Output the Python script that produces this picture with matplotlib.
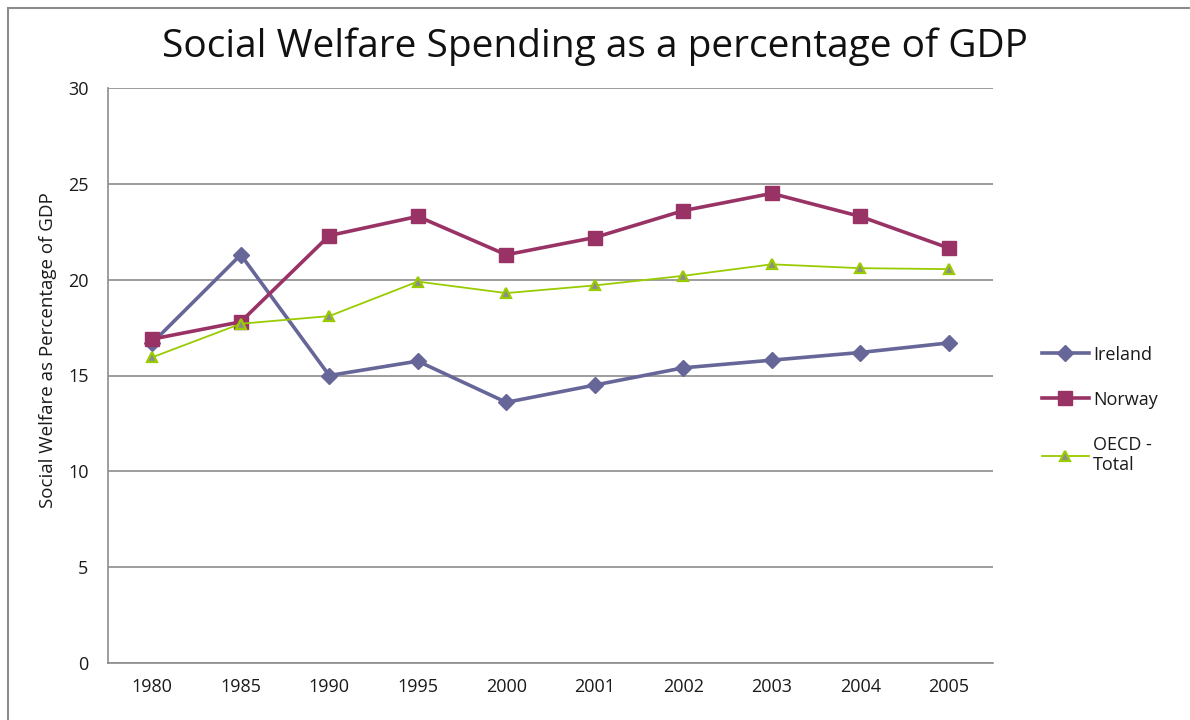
import matplotlib
matplotlib.use("Agg")
import matplotlib.pyplot as plt
from matplotlib.patches import Rectangle

years = ["1980", "1985", "1990", "1995", "2000", "2001", "2002", "2003", "2004", "2005"]
ireland = [16.7, 21.3, 15.0, 15.75, 13.6, 14.5, 15.4, 15.8, 16.2, 16.7]
norway = [16.9, 17.8, 22.3, 23.3, 21.3, 22.2, 23.6, 24.5, 23.3, 21.65]
oecd = [15.95, 17.7, 18.1, 19.9, 19.3, 19.7, 20.2, 20.8, 20.6, 20.55]
y_ticks = [0, 5, 10, 15, 20, 25, 30]

plt.rcParams["font.family"] = ["Open Sans", "DejaVu Sans"]

W, H = 1190, 720
fig = plt.figure(figsize=(W / 100, H / 100), dpi=100)

# outer chart frame
fig.patches.append(Rectangle((8 / W, -0.01), 1.02, 1 - 8 / H + 0.01,
                             transform=fig.transFigure, fill=False,
                             edgecolor="#8c8c8c", linewidth=1.5, zorder=0))

ax = fig.add_axes([108 / W, (H - 663) / H, (993 - 108) / W, (663 - 88) / H])
x = range(len(years))

ax.plot(x, ireland, color="#666699", linewidth=2.6, marker="D", markersize=8.2,
        markerfacecolor="#666699", markeredgecolor="#666699", label="Ireland",
        zorder=3)
ax.plot(x, norway, color="#993366", linewidth=2.6, marker="s", markersize=10.5,
        markerfacecolor="#993366", markeredgecolor="#993366", label="Norway",
        zorder=4)
ax.plot(x, oecd, color="#99cc00", linewidth=1.3, marker="^", markersize=7,
        markerfacecolor="#8c8c8c", markeredgecolor="#99cc00",
        markeredgewidth=1.6, label="OECD -\nTotal", zorder=5)

ax.set_xlim(-0.5, len(years) - 0.5)
ax.set_ylim(0, 30)
ax.set_yticks(y_ticks)
ax.set_xticks(list(x))
ax.set_xticklabels(years)
ax.tick_params(axis="both", length=0, labelsize=13, colors="#1a1a1a")
ax.tick_params(axis="x", pad=11)
ax.tick_params(axis="y", pad=14)
ax.yaxis.grid(True, color="#8c8c8c", linewidth=1.2)
ax.set_axisbelow(True)
for side in ("top", "right"):
    ax.spines[side].set_visible(False)
for side in ("left", "bottom"):
    ax.spines[side].set_color("#8c8c8c")
    ax.spines[side].set_linewidth(1.2)

ax.set_ylabel("Social Welfare as Percentage of GDP", fontsize=13.5,
              color="#1a1a1a")
ax.yaxis.set_label_coords(-0.058, 0.545)

fig.text(595 / W, 1 - 47 / H, "Social Welfare Spending as a percentage of GDP",
         ha="center", va="center", fontsize=28, color="#111111")

ax.legend(loc="center left", bbox_to_anchor=(1.0, 0.44), frameon=False,
          fontsize=13, handlelength=2.6, handletextpad=0.25,
          labelspacing=1.5, borderaxespad=2.3, labelcolor="#1a1a1a")

fig.savefig("out.png", dpi=100)
